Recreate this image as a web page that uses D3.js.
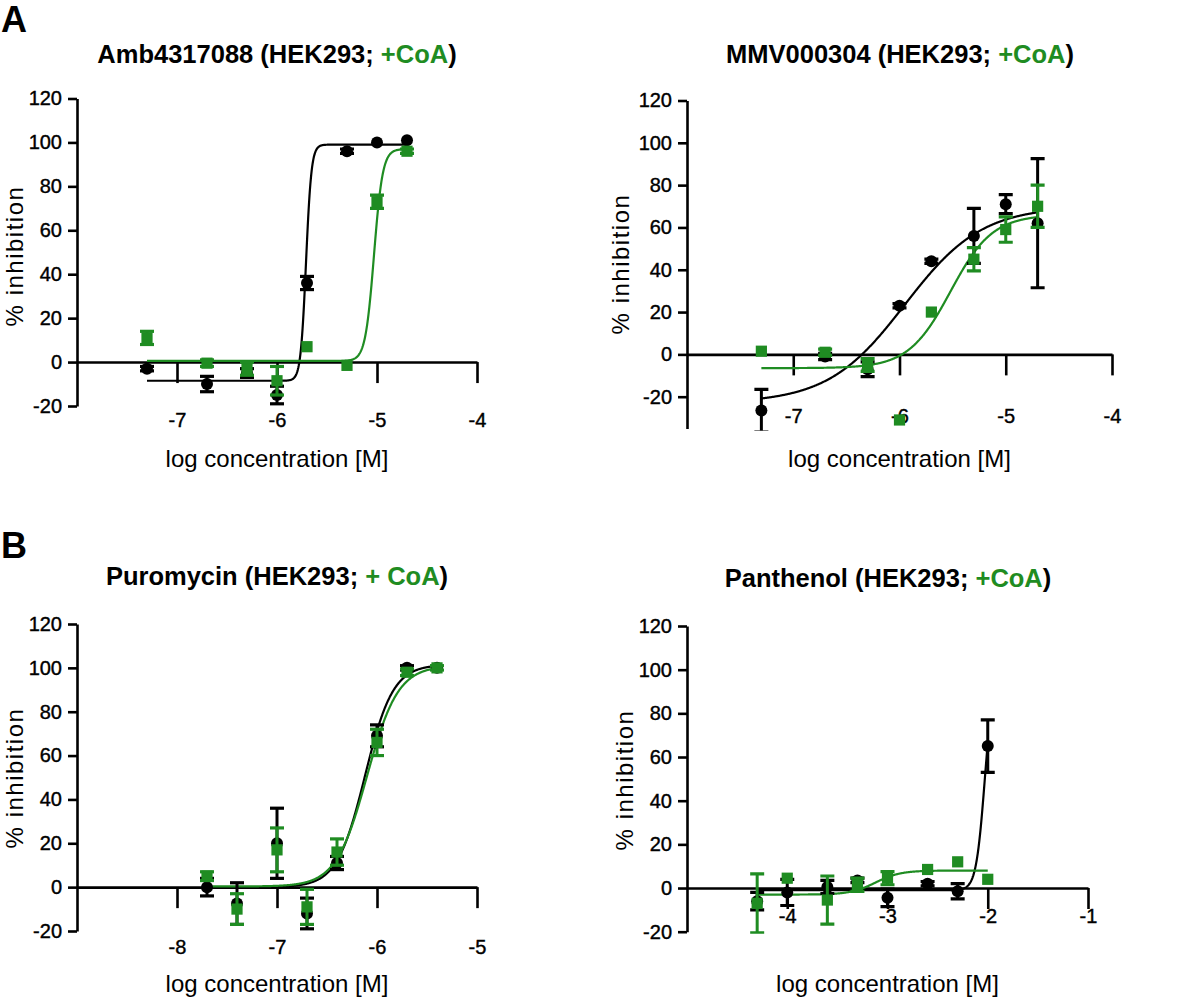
<!DOCTYPE html>
<html><head><meta charset="utf-8">
<script src="https://cdn.jsdelivr.net/npm/d3@7"></script>
<style>
body{margin:0;background:#fff}
svg{display:block}
text{font-family:"Liberation Sans", Arial, Helvetica, sans-serif;fill:#000}
</style>
</head><body>
<svg id="c" width="1200" height="1002"></svg>
<script>
// ---------------- DATA ----------------
const yTicks = [-20, 0, 20, 40, 60, 80, 100, 120];

// Panel A left: Amb4317088
const ambConc      = [-7.3, -6.7, -6.3, -6.0, -5.7, -5.3, -5.0, -4.7];
const ambBlack     = [-3, -10, -5, -15, 36, 96, 100, 101];
const ambBlackErr  = [1, 3.5, 2, 4, 3, 1, 0.5, 0.5];
const ambGreen     = [11, -0.5, -3, -8.5, 7, -1.5, 73, 96];
const ambGreenErr  = [3, 1.5, 3, 6.5, 0.5, 0.5, 3, 1];
const ambFitBlack  = [-8.5, 99, -5.71, 16];   // bottom, top, logIC50, hill
const ambFitGreen  = [0.5, 97, -5.03, 10];
const ambXTicks    = [-7, -6, -5, -4];

// Panel A right: MMV000304
const mmvConc      = [-7.3, -6.7, -6.3, -6.0, -5.7, -5.3, -5.0, -4.7];
const mmvBlack     = [-26.5, -1, -7, 23, 44, 56, 71, 62];
const mmvBlackErr  = [10, 1.5, 3.5, 1, 1, 13, 4.5, 30.5];
const mmvGreen     = [1.5, 1, -5, -31, 20, 45, 59, 70];
const mmvGreenErr  = [0.5, 1.5, 3, 0.5, 0.5, 5.5, 6, 10];
const mmvFitBlack  = [-23, 70, -5.95, 1.2];
const mmvFitGreen  = [-6.5, 66, -5.52, 2.2];
const mmvXTicks    = [-7, -6, -5, -4];

// Panel B left: Puromycin
const puroConc     = [-7.7, -7.4, -7.0, -6.7, -6.4, -6.0, -5.7, -5.4];
const puroBlack    = [0, -7.5, 20, -12, 11, 69, 100, 100];
const puroBlackErr = [4, 9.5, 16, 7, 3, 5, 1, 0.5];
const puroGreen    = [5, -10, 17, -9, 16, 66, 98, 100];
const puroGreenErr = [2, 7, 10, 8, 6, 6, 1.5, 1];
const puroFitBlack = [0, 101.5, -6.12, 3.1];
const puroFitGreen = [0.3, 101, -6.10, 2.8];
const puroXTicks   = [-8, -7, -6, -5];

// Panel B right: Panthenol
const panthConc     = [-4.3, -4.0, -3.6, -3.3, -3.0, -2.6, -2.3, -2.0];
const panthBlack    = [-6, -2, 0.5, 3.5, -4.5, 2, -1.5, 65];
const panthBlackErr = [4, 6, 3, 1, 4, 1, 3.5, 12];
const panthGreen    = [-7, 4.5, -5.5, 1.5, 4.5, 8.5, 12, 4];
const panthGreenErr = [13.5, 0.5, 11, 3, 3, 0.5, 0.5, 0.5];
const panthFitBlack = [-1, 100, -2.03, 10];
const panthFitGreen = [-3, 8, -3.12, 3.5];
const panthXTicks   = [-4, -3, -2, -1];

// ---------------- LAYOUT ----------------
const GREEN = "#1f8c22";
const panels = [
  {title:["Amb4317088 (HEK293; ","+CoA",")"],
   conc:ambConc, black:ambBlack, blackErr:ambBlackErr, green:ambGreen, greenErr:ambGreenErr,
   fitB:ambFitBlack, fitG:ambFitGreen, xTicks:ambXTicks, xDomain:[-8,-4], yMin:-20,
   L:{x0:77, x1:477, y120:98.5, yM20:406, xPad:30, titleX:277, titleY:63, ylabX:14, ylabY:256, xlabY:467}},
  {title:["MMV000304 (HEK293; ","+CoA",")"],
   conc:mmvConc, black:mmvBlack, blackErr:mmvBlackErr, green:mmvGreen, greenErr:mmvGreenErr,
   fitB:mmvFitBlack, fitG:mmvFitGreen, xTicks:mmvXTicks, xDomain:[-8,-4], yMin:-35,
   L:{x0:687, x1:1112, y120:100.5, yM20:396.7, xPad:33, titleX:900, titleY:63, ylabX:620, ylabY:264, xlabY:467}},
  {title:["Puromycin (HEK293; ","+ CoA",")"],
   conc:puroConc, black:puroBlack, blackErr:puroBlackErr, green:puroGreen, greenErr:puroGreenErr,
   fitB:puroFitBlack, fitG:puroFitGreen, xTicks:puroXTicks, xDomain:[-9,-5], yMin:-20,
   L:{x0:77, x1:477, y120:624, yM20:931, xPad:32, titleX:277, titleY:585, ylabX:14, ylabY:778, xlabY:992}},
  {title:["Panthenol (HEK293; ","+CoA",")"],
   conc:panthConc, black:panthBlack, blackErr:panthBlackErr, green:panthGreen, greenErr:panthGreenErr,
   fitB:panthFitBlack, fitG:panthFitGreen, xTicks:panthXTicks, xDomain:[-5,-1], yMin:-20,
   L:{x0:687, x1:1088, y120:626, yM20:931.7, xPad:0, titleX:888, titleY:587, ylabX:624, ylabY:780, xlabY:992}}
];

const svg = d3.select("#c");

svg.append("text").attr("x",1).attr("y",32).attr("font-size",36).attr("font-weight","bold").text("A");
svg.append("text").attr("x",1).attr("y",558).attr("font-size",36).attr("font-weight","bold").text("B");

function logistic(f, v){ return f[0] + (f[1]-f[0])/(1+Math.pow(10,(f[2]-v)*f[3])); }

panels.forEach((p, pi) => {
  const L = p.L;
  const yBase = d3.scaleLinear().domain([-20,120]).range([L.yM20, L.y120]);
  const y = d3.scaleLinear().domain([p.yMin,120]).range([yBase(p.yMin), yBase(120)]);
  const x = d3.scaleLinear().domain(p.xDomain).range([L.x0, L.x1]);
  const g = svg.append("g");

  // title
  const t = g.append("text").attr("x",L.titleX).attr("y",L.titleY).attr("text-anchor","middle")
     .attr("font-size",25.5).attr("font-weight","bold");
  t.append("tspan").text(p.title[0]);
  t.append("tspan").attr("fill",GREEN).style("fill",GREEN).text(p.title[1]);
  t.append("tspan").text(p.title[2]);

  // y axis
  const ya = g.append("g").attr("transform",`translate(${L.x0},0)`)
    .call(d3.axisLeft(y).tickValues(yTicks).tickSize(9).tickSizeOuter(0).tickPadding(6));
  // x axis at y=0
  const xa = g.append("g").attr("transform",`translate(0,${y(0)})`)
    .call(d3.axisBottom(x).tickValues(p.xTicks).tickSizeInner(21).tickSizeOuter(0).tickPadding(p.L.xPad));
  [ya, xa].forEach(a => {
    a.select(".domain").attr("stroke","#000").attr("stroke-width",2.6);
    a.selectAll(".tick line").attr("stroke","#000").attr("stroke-width",2.6);
    a.selectAll(".tick text").attr("font-size",20).attr("font-family",'"Liberation Sans", Arial, sans-serif')
      .attr("fill","#000").attr("stroke","#000").attr("stroke-width",0.4);
  });
  xa.selectAll(".tick text").text(d => String(d));
  ya.selectAll(".tick text").text(d => String(d));

  // axis titles
  g.append("text").attr("transform",`translate(${L.ylabX},${L.ylabY}) rotate(-90)`)
    .attr("text-anchor","middle").attr("dominant-baseline","central")
    .attr("font-size",24).attr("letter-spacing",1.5).text("% inhibition");
  g.append("text").attr("x",(L.x0+L.x1)/2).attr("y",L.xlabY).attr("text-anchor","middle")
    .attr("font-size",24).text("log concentration [M]");

  // clip
  const cid = "clip"+pi;
  svg.append("clipPath").attr("id",cid).append("rect")
    .attr("x",L.x0-30).attr("width",L.x1-L.x0+60)
    .attr("y",y(120)-20).attr("height",y(p.yMin)-y(120)+22);
  const data = g.append("g").attr("clip-path",`url(#${cid})`);

  // fitted curves
  const x0 = d3.min(p.conc), x1 = d3.max(p.conc);
  const line = d3.line().x(d=>x(d[0])).y(d=>y(d[1]));
  [[p.fitB,"#000"],[p.fitG,GREEN]].forEach(([f,col]) => {
    const pts = d3.range(0,601).map(i => { const v = x0 + (x1-x0)*i/600; return [v, logistic(f,v)]; });
    data.append("path").datum(pts).attr("d",line).attr("fill","none").attr("stroke",col).attr("stroke-width",2.2);
  });

  // series
  function series(vals, errs, col, shape) {
    const sg = data.append("g");
    const cap = 7;
    p.conc.forEach((c,i) => {
      const cx = x(c), v = vals[i], e = errs[i];
      if (e > 0.8) {
        sg.append("line").attr("x1",cx).attr("x2",cx).attr("y1",y(v-e)).attr("y2",y(v+e))
          .attr("stroke",col).attr("stroke-width",3);
        [v-e, v+e].forEach(w => sg.append("line").attr("x1",cx-cap).attr("x2",cx+cap)
          .attr("y1",y(w)).attr("y2",y(w)).attr("stroke",col).attr("stroke-width",3.2));
      }
      if (shape === "circle") {
        sg.append("circle").attr("cx",cx).attr("cy",y(v)).attr("r",6).attr("fill",col);
      } else {
        sg.append("rect").attr("x",cx-5.6).attr("y",y(v)-5.6).attr("width",11.2).attr("height",11.2).attr("fill",col);
      }
    });
  }
  series(p.black, p.blackErr, "#000", "circle");
  series(p.green, p.greenErr, GREEN, "square");
});
</script>
</body></html>
